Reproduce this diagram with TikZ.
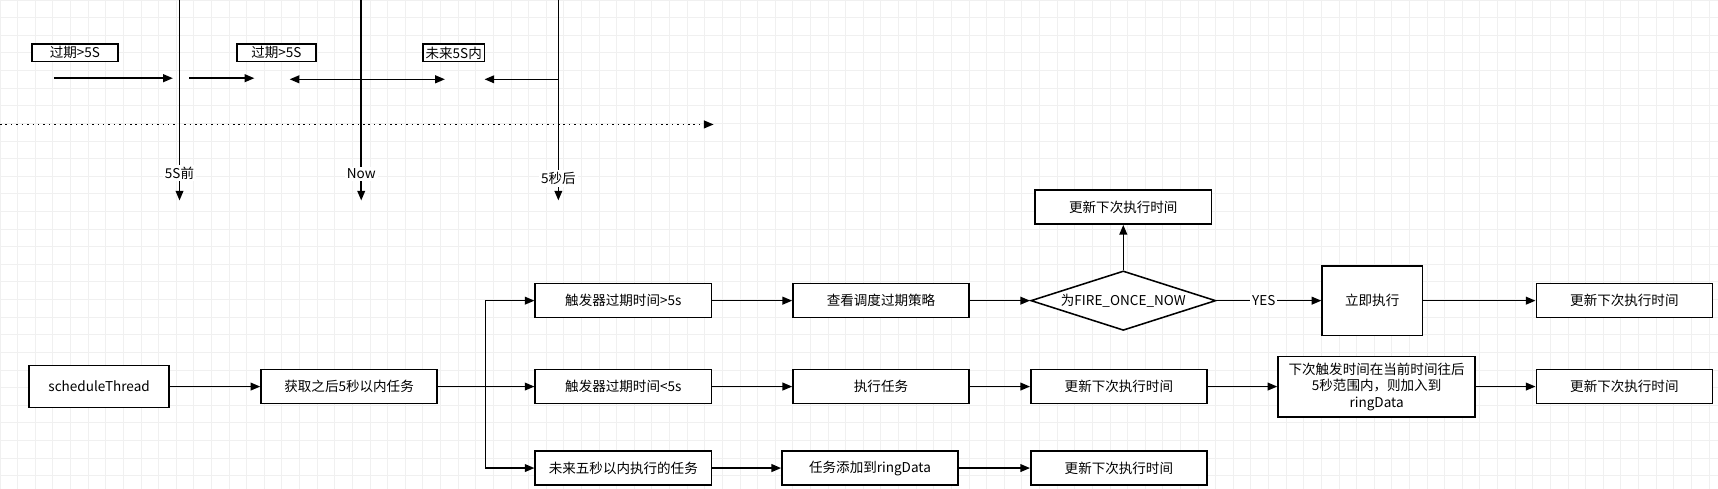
\documentclass[tikz,border=0pt]{standalone}
\usepackage{fontspec}
\setmainfont{Noto Sans CJK SC}
\usetikzlibrary{shapes.geometric,arrows.meta}
\begin{document}
\begin{tikzpicture}[x=0.02cm,y=-0.02cm,
 every node/.style={font=\fontsize{7}{8.5}\selectfont},
 box/.style={draw,thick,fill=white,minimum width=3.2cm,minimum height=0.62cm,inner sep=1pt,align=center},
 sbox/.style={draw,thick,fill=white,inner sep=1pt,minimum height=0.32cm},
 arr/.style={thick,-{Triangle[length=5pt,width=4pt]}},
 lbl/.style={fill=white,inner sep=1pt}]
\useasboundingbox (0,0) rectangle (1560,444);
\draw[step=0.32cm,gray!12,thin] (0,0) grid (1560,444);
% top timeline
\coordinate (t0) at (0,113); \coordinate (t1) at (648,113);
\draw[thick,dotted,-{Triangle[length=5pt,width=4pt]}] (t0) -- (t1);
\foreach \n/\x/\t/\ly in {a/163/5S前/157,b/328/Now/158,c/507/5秒后/162}{
 \coordinate (\n top) at (\x,0); \coordinate (\n bot) at (\x,182);
 \draw[arr] (\n top) -- (\n bot);
 \node[lbl] (\n lab) at (\x,\ly) {\t};}
\node[sbox,minimum width=1.56cm] (g1) at (68,48) {过期>5S};
\node[sbox,minimum width=1.44cm] (g2) at (251,48) {过期>5S};
\node[sbox,minimum width=1.12cm] (g3) at (412,48) {未来5S内};
\coordinate (p1) at (49,71); \coordinate (p2) at (157,71);
\coordinate (p3) at (172,71); \coordinate (p4) at (231,71);
\coordinate (p5) at (328,72); \coordinate (p6) at (263,72); \coordinate (p7) at (404,72);
\coordinate (p8) at (507,72); \coordinate (p9) at (440,72);
\draw[arr] (p1)--(p2); \draw[arr] (p3)--(p4); \draw[arr] (p5)--(p6);
\draw[arr] (p5)--(p7); \draw[arr] (p8)--(p9);
% flow
\node[box,minimum width=2.54cm,minimum height=0.76cm] (st) at (90,351) {scheduleThread};
\node[box] (get) at (317,351) {获取之后5秒以内任务};
\node[box] (r1) at (566,273) {触发器过期时间>5s};
\node[box] (r2) at (566,351) {触发器过期时间<5s};
\node[box] (r3) at (566,425) {未来五秒以内执行的任务};
\node[box] (a1) at (800,273) {查看调度过期策略};
\node[diamond,draw,thick,fill=white,aspect=3.1,minimum width=3.36cm,minimum height=1.08cm,inner sep=0pt] (d) at (1020,273) {为FIRE\_ONCE\_NOW};
\node[box] (u0) at (1020,188) {更新下次执行时间};
\node[box,minimum width=1.82cm,minimum height=1.26cm] (now) at (1246,273) {立即执行};
\node[box] (u1) at (1475,273) {更新下次执行时间};
\node[box] (a2) at (800,351) {执行任务};
\node[box] (u2) at (1016,351) {更新下次执行时间};
\node[box,minimum width=3.58cm,minimum height=1.1cm] (big) at (1250,351) {下次触发时间在当前时间往后\\5秒范围内，则加入到\\ringData};
\node[box] (u3) at (1475,351) {更新下次执行时间};
\node[box] (a3) at (790,425) {任务添加到ringData};
\node[box] (u4) at (1016,425) {更新下次执行时间};
\coordinate (br) at (441,351);
\draw[arr] (st)--(get);
\draw[thick] (get)--(br);
\draw[arr] (br) |- (r1);
\draw[arr] (br) |- (r3);
\draw[arr] (br) -- (r2);
\draw[arr] (r1)--(a1); \draw[arr] (a1)--(d); \draw[arr] (d)--(u0);
\draw[arr] (d)--node[lbl,pos=0.45]{YES}(now); \draw[arr] (now)--(u1);
\draw[arr] (r2)--(a2); \draw[arr] (a2)--(u2); \draw[arr] (u2)--(big); \draw[arr] (big)--(u3);
\draw[arr] (r3)--(a3); \draw[arr] (a3)--(u4);
\end{tikzpicture}
\end{document}
